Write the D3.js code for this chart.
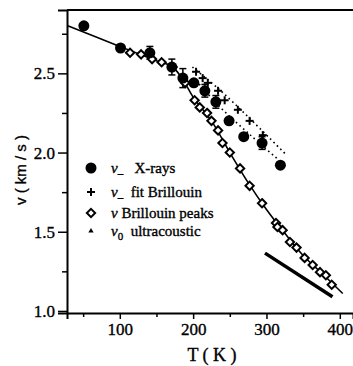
<!DOCTYPE html>
<html lang="en">
<head>
<meta charset="UTF-8">
<title>Sound velocity vs temperature</title>
<script src="https://d3js.org/d3.v7.min.js"></script>
<style>
  body { margin: 0; background: #fff; }
</style>
</head>
<body>
<svg id="chart" width="353" height="366"></svg>
<script>
// X-ray points (filled circles)
const xrayT = [51, 101, 141, 171, 186, 201, 216, 231, 249, 269, 294, 319];
const xrayV = [2.80, 2.66, 2.63, 2.54, 2.47, 2.44, 2.39, 2.32, 2.20, 2.10, 2.06, 1.92];
const xrayErr = [0, 0, 0.04, 0.05, 0.06, 0, 0.04, 0.04, 0, 0, 0.04, 0];

// fit Brillouin (+)
const fitT = [204, 213, 220, 234, 243, 261, 277, 295];
const fitV = [2.51, 2.47, 2.44, 2.39, 2.33, 2.27, 2.20, 2.11];

// Brillouin peaks (open diamonds)
const peakT = [114, 129, 144, 157, 172, 189, 202, 209, 219, 225, 234, 240, 250, 264,
               277, 294, 313, 315, 322, 332, 341, 352, 363, 373, 381, 389];
const peakV = [2.63, 2.62, 2.59, 2.57, 2.54, 2.44, 2.33, 2.285, 2.25, 2.20, 2.14, 2.06,
               2.00, 1.90, 1.79, 1.68, 1.555, 1.53, 1.51, 1.435, 1.40, 1.335, 1.29, 1.245,
               1.225, 1.165];

// solid fit line through low-T points and the peaks
const fitLineT = [29, 100, 150, 172, 186, 200, 225, 250, 275, 300, 325, 350, 375, 404];
const fitLineV = [2.80, 2.67, 2.58, 2.54, 2.46, 2.35, 2.20, 2.00, 1.81, 1.64, 1.49, 1.35, 1.24, 1.11];

// dotted guides
const dotUpT = [199, 234, 277, 325];
const dotUpV = [2.54, 2.405, 2.216, 1.995];
const dotLowT = [204, 236, 277, 314];
const dotLowV = [2.455, 2.29, 2.115, 1.964];

// ultrasonic (thick line)
const ultraT = [298, 390];
const ultraV = [1.365, 1.09];

const xTicks = [100, 200, 300, 400];
const xMinor = [50, 150, 250, 350];
const yTicks = [1.0, 1.5, 2.0, 2.5];
const yMinor = [1.25, 1.75, 2.25, 2.75];

const SERIF = "Liberation Serif, Times New Roman, serif";

const svg = d3.select("#chart");
const x = d3.scaleLinear().domain([28, 418]).range([67, 353]);
const y = d3.scaleLinear().domain([0.987, 2.9]).range([313, 10]);

const pts = (ts, vs) => ts.map((t, i) => [t, vs[i]]);
const line = d3.line().x(d => x(d[0])).y(d => y(d[1]));

// axes
const bottom = svg.append("g").attr("transform", `translate(0,${y.range()[0]})`);
bottom.call(d3.axisBottom(x).tickValues(xTicks).tickSize(6).tickPadding(4).tickFormat(d3.format("d")));
bottom.append("g").call(d3.axisBottom(x).tickValues(xMinor).tickSize(4).tickFormat(""))
  .select(".domain").remove();

const left = svg.append("g").attr("transform", `translate(${x.range()[0]},0)`);
left.call(d3.axisLeft(y).tickValues(yTicks).tickSize(9).tickPadding(3).tickFormat(d3.format(".1f")));
left.append("g").call(d3.axisLeft(y).tickValues(yMinor).tickSize(5).tickFormat(""))
  .select(".domain").remove();

svg.selectAll(".domain").attr("stroke-width", 2);
svg.selectAll(".tick line").attr("stroke-width", 1.5);
bottom.attr("font-family", SERIF).attr("font-size", 17);
left.attr("font-family", SERIF).attr("font-size", 17);
svg.selectAll(".tick text").attr("fill", "#000").attr("stroke", "#000").attr("stroke-width", 0.35);

// top frame
svg.append("line")
  .attr("x1", x.range()[0]).attr("x2", x.range()[1])
  .attr("y1", y.range()[1]).attr("y2", y.range()[1])
  .attr("stroke", "#000").attr("stroke-width", 2);

// axis titles
svg.append("text")
  .attr("transform", "translate(26,170) rotate(-90)")
  .attr("text-anchor", "middle")
  .attr("font-size", 15)
  .attr("font-family", "Liberation Sans, Arial, sans-serif")
  .attr("stroke", "#000").attr("stroke-width", 0.3)
  .text("v ( km / s )");

svg.append("text")
  .attr("x", 212).attr("y", 361)
  .attr("text-anchor", "middle")
  .attr("font-size", 18)
  .attr("font-family", SERIF)
  .attr("stroke", "#000").attr("stroke-width", 0.35)
  .text("T ( K )");

// lines
svg.append("path").datum(pts(fitLineT, fitLineV))
  .attr("d", line.curve(d3.curveCatmullRom))
  .attr("fill", "none").attr("stroke", "#000").attr("stroke-width", 1.6);

[[dotUpT, dotUpV], [dotLowT, dotLowV]].forEach(([ts, vs]) => {
  svg.append("path").datum(pts(ts, vs))
    .attr("d", line.curve(d3.curveCatmullRom))
    .attr("fill", "none").attr("stroke", "#000").attr("stroke-width", 1.6)
    .attr("stroke-dasharray", "1.6,3.2");
});

svg.append("path").datum(pts(ultraT, ultraV))
  .attr("d", d3.line().x(d => x(d[0])).y(d => y(d[1])))
  .attr("fill", "none").attr("stroke", "#000").attr("stroke-width", 3.5);

// error bars
const errData = pts(xrayT, xrayV).map((p, i) => [p[0], p[1], xrayErr[i]]).filter(d => d[2] > 0);
const eb = svg.append("g").attr("stroke", "#000").attr("stroke-width", 1.5);
errData.forEach(d => {
  const cx = x(d[0]), y1 = y(d[1] + d[2]), y2 = y(d[1] - d[2]);
  eb.append("line").attr("x1", cx).attr("x2", cx).attr("y1", y1).attr("y2", y2);
  eb.append("line").attr("x1", cx - 3.5).attr("x2", cx + 3.5).attr("y1", y1).attr("y2", y1);
  eb.append("line").attr("x1", cx - 3.5).attr("x2", cx + 3.5).attr("y1", y2).attr("y2", y2);
});

// diamonds
const diamond = d3.symbol().type(d3.symbolDiamond2).size(44);
svg.selectAll(".peak").data(pts(peakT, peakV)).enter()
  .append("path").attr("class", "peak")
  .attr("transform", d => `translate(${x(d[0])},${y(d[1])})`)
  .attr("d", diamond)
  .attr("fill", "#fff").attr("stroke", "#000").attr("stroke-width", 2);

// crosses
const plus = (g, cx, cy, s) => {
  g.append("line").attr("x1", cx - s).attr("x2", cx + s).attr("y1", cy).attr("y2", cy);
  g.append("line").attr("x1", cx).attr("x2", cx).attr("y1", cy - s).attr("y2", cy + s);
};
const crossG = svg.append("g").attr("stroke", "#000").attr("stroke-width", 2);
pts(fitT, fitV).forEach(d => plus(crossG, x(d[0]), y(d[1]), 4));

// circles
svg.selectAll(".xray").data(pts(xrayT, xrayV)).enter()
  .append("circle").attr("class", "xray")
  .attr("cx", d => x(d[0])).attr("cy", d => y(d[1]))
  .attr("r", 5.5).attr("fill", "#000");

// legend
const lg = svg.append("g").attr("font-family", SERIF).attr("font-size", 15);
const lx = 91, tx = 111;
lg.append("circle").attr("cx", lx).attr("cy", 168).attr("r", 5.5).attr("fill", "#000");
plus(lg.append("g").attr("stroke", "#000").attr("stroke-width", 2), lx, 192, 4);
lg.append("path").attr("transform", `translate(${lx},213)`).attr("d", diamond)
  .attr("fill", "#fff").attr("stroke", "#000").attr("stroke-width", 2);
lg.append("path").attr("transform", `translate(${lx},231)`)
  .attr("d", d3.symbol().type(d3.symbolTriangle).size(12)).attr("fill", "#000");

const legendRows = [
  {y: 173, sub: "\u2012", rest: "   X-rays"},
  {y: 197, sub: "\u2012", rest: "  fit Brillouin"},
  {y: 218, sub: "", rest: " Brillouin peaks"},
  {y: 236, sub: "0", rest: "  ultracoustic"}
];
legendRows.forEach(r => {
  const t = lg.append("text").attr("x", tx).attr("y", r.y)
    .attr("stroke", "#000").attr("stroke-width", 0.35)
    .attr("xml:space", "preserve").style("white-space", "pre");
  t.append("tspan").attr("font-style", "italic").text("\u03BD");
  if (r.sub) t.append("tspan").attr("font-size", 11).attr("dy", 4).text(r.sub);
  t.append("tspan").attr("dy", r.sub ? -4 : 0).text(r.rest);
});
</script>
</body>
</html>
